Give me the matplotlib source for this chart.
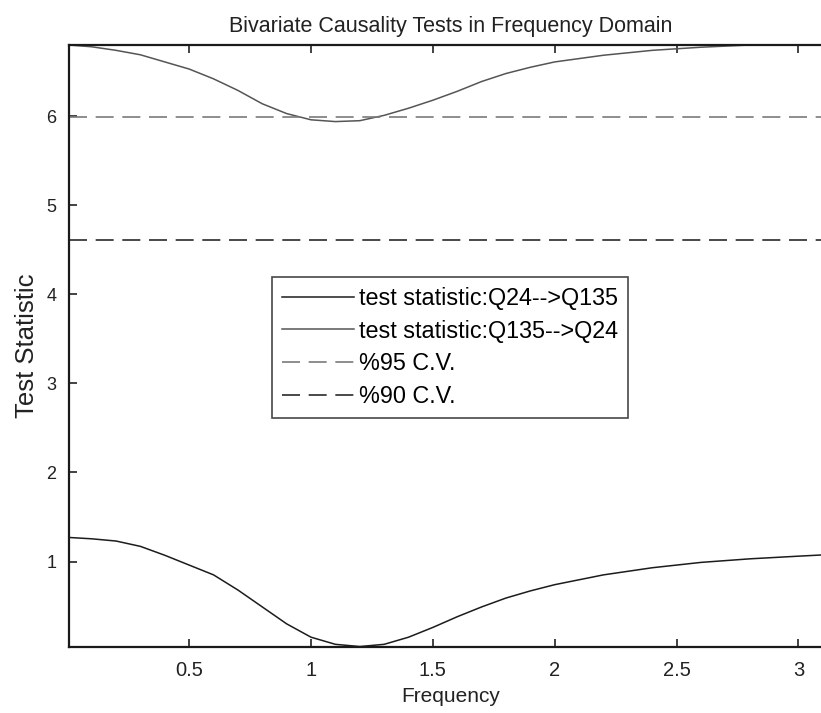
import matplotlib
matplotlib.use("Agg")
import matplotlib.pyplot as plt
import numpy as np

# ---- data ----
freq = [0.007, 0.1, 0.2, 0.3, 0.4, 0.5, 0.6, 0.7, 0.8, 0.9, 1.0, 1.1, 1.2, 1.3,
        1.4, 1.5, 1.6, 1.7, 1.8, 1.9, 2.0, 2.2, 2.4, 2.6, 2.8, 3.0, 3.1416]
stat_q24_q135 = [1.27, 1.255, 1.23, 1.17, 1.07, 0.96, 0.85, 0.68, 0.49, 0.30, 0.15,
                 0.07, 0.045, 0.07, 0.15, 0.26, 0.38, 0.49, 0.59, 0.67, 0.74, 0.85,
                 0.93, 0.99, 1.03, 1.06, 1.08]
stat_q135_q24 = [6.80, 6.78, 6.74, 6.69, 6.61, 6.53, 6.42, 6.29, 6.14, 6.03, 5.96,
                 5.94, 5.95, 6.01, 6.09, 6.18, 6.28, 6.39, 6.48, 6.55, 6.61, 6.685,
                 6.74, 6.775, 6.80, 6.82, 6.83]
cv95 = 5.99
cv90 = 4.61
labels = ["test statistic:Q24-->Q135", "test statistic:Q135-->Q24", "%95 C.V.", "%90 C.V."]
xticks = [0.5, 1, 1.5, 2, 2.5, 3]
yticks = [1, 2, 3, 4, 5, 6]

font = ["Liberation Sans", "DejaVu Sans"]

fig = plt.figure(figsize=(8.21, 7.13), dpi=100)
ax = fig.add_axes([69 / 821, 1 - 647 / 713, (833 - 69) / 821, (647 - 45) / 713])

dash = (0, (10.8, 5.2))
l1, = ax.plot(freq, stat_q24_q135, color="#1c1c1c", lw=1.1)
l2, = ax.plot(freq, stat_q135_q24, color="#555555", lw=1.1)
l3 = ax.axhline(cv95, color="#7a7a7a", lw=1.2, linestyle=dash)
l4 = ax.axhline(cv90, color="#2a2a2a", lw=1.2, linestyle=dash)

ax.set_xlim(0.007, 3.1416)
ax.set_ylim(0.04, 6.8)
ax.set_xticks(xticks)
ax.set_xticklabels(["0.5", "1", "1.5", "2", "2.5", "3"], family=font, fontsize=14.5)
ax.set_yticks(yticks)
ax.set_yticklabels([str(v) for v in yticks], family=font, fontsize=13)
ax.tick_params(axis="both", direction="in", length=6, width=1.2, colors="#222222",
               top=True, right=True)
ax.tick_params(axis="x", pad=10)
ax.tick_params(axis="y", pad=9)
for s in ax.spines.values():
    s.set_linewidth(1.6)
    s.set_color("#1a1a1a")

ax.set_title("Bivariate Causality Tests in Frequency Domain", family=font,
             fontsize=15.5, pad=9, color="#222222")
ax.set_xlabel("Frequency", family=font, fontsize=15, labelpad=5, color="#222222")
ax.set_ylabel("Test Statistic", family=font, fontsize=18.5, labelpad=5, color="#222222")

leg = ax.legend([l1, l2, l3, l4], labels, loc="upper left",
                bbox_to_anchor=((272 - 69) / 764, 1 - (277 - 45) / 602),
                prop={"family": font, "size": 16.8}, frameon=True, fancybox=False,
                edgecolor="#1a1a1a", borderpad=0.42, handlelength=3.1,
                handletextpad=0.22, labelspacing=0.42, borderaxespad=0)
leg.get_frame().set_linewidth(1.2)

fig.savefig("out.png", dpi=100, facecolor="white")
